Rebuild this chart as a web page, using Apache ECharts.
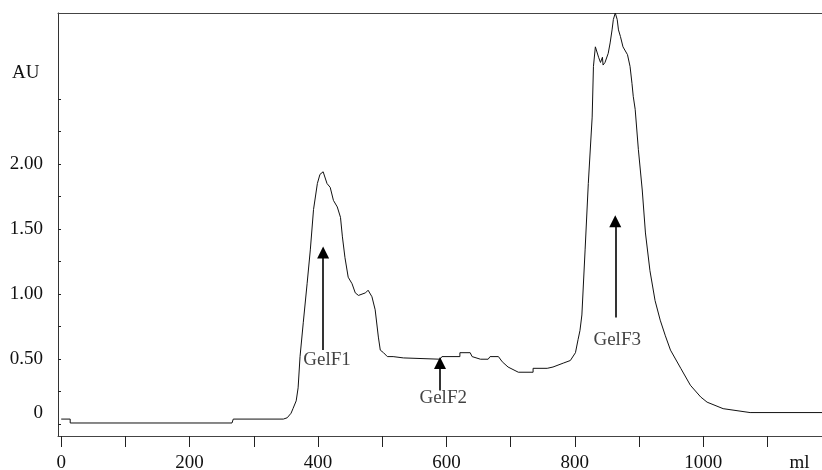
<!DOCTYPE html>
<html>
<head>
<meta charset="utf-8">
<script src="https://cdn.jsdelivr.net/npm/echarts@6/dist/echarts.min.js"></script>
<style>
  html, body { margin: 0; padding: 0; background: #fff; }
  #chart { width: 822px; height: 470px; }
</style>
</head>
<body>
<div id="chart"></div>
<script>
// elution volume (ml) and absorbance (AU)
const volume = [
  0, 14, 14, 266, 268, 346, 352, 358, 361, 366, 369, 372, 377, 383, 388, 393, 399, 403, 408,
  414, 419, 424, 430, 435, 438, 442, 447, 453, 458, 463, 474, 478, 484, 489, 494, 497, 502,
  508, 517, 533, 590, 593, 621, 621, 637, 640, 653, 665, 668, 681, 687, 696, 712, 735, 735,
  757, 766, 782, 793, 801, 805, 808, 811, 816, 821, 827, 829, 832, 835, 837, 840, 843, 844,
  847, 850, 852, 855, 858, 860, 863, 866, 868, 871, 875, 882, 886, 889, 891, 894, 899, 905,
  910, 917, 925, 933, 941, 949, 965, 980, 996, 1006, 1031, 1073, 1185
];
const absorbance = [
  0.04, 0.04, 0.01, 0.01, 0.04, 0.04, 0.05, 0.085, 0.12, 0.18, 0.28, 0.52, 0.78, 1.08, 1.34,
  1.65, 1.85, 1.92, 1.94, 1.85, 1.82, 1.72, 1.67, 1.59, 1.44, 1.28, 1.13, 1.08, 1.01, 0.99,
  1.01, 1.03, 0.98, 0.88, 0.67, 0.57, 0.55, 0.52, 0.52, 0.51, 0.50, 0.52, 0.52, 0.55, 0.55,
  0.52, 0.50, 0.50, 0.52, 0.52, 0.48, 0.44, 0.40, 0.40, 0.43, 0.43, 0.44, 0.47, 0.49, 0.55,
  0.65, 0.72, 0.84, 1.34, 1.85, 2.36, 2.75, 2.90, 2.90, 2.82, 2.78, 2.82, 2.76, 2.78, 2.78,
  2.85, 2.93, 3.03, 3.11, 3.16, 3.11, 3.03, 2.98, 2.90, 2.84, 2.75, 2.62, 2.52, 2.42, 2.11,
  1.80, 1.47, 1.18, 0.95, 0.80, 0.68, 0.57, 0.43, 0.30, 0.21, 0.17, 0.12, 0.09, 0.09
];

const xTicks = [0, 100, 200, 300, 400, 500, 600, 700, 800, 900, 1000, 1100];
const xLabels = [0, 200, 400, 600, 800, 1000, 1150]; // last slot carries the unit
const yTicks = [0, 0.25, 0.5, 0.75, 1, 1.25, 1.5, 1.75, 2, 2.25, 2.5];
const yLabels = [0, 0.5, 1, 1.5, 2];

// fraction arrows and their captions
const fractionNames = ["GelF1", "GelF2", "GelF3"];
const arrowX = [408, 590, 863];
const arrowFrom = [0.57, 0.26, 0.82];
const arrowTo = [1.32, 0.47, 1.56];
const captionX = [414, 595, 866];
const captionY = [0.49, 0.2, 0.65];

const font = "Liberation Serif";
const chart = echarts.init(document.getElementById("chart"), null, { renderer: "canvas" });

const trace = volume.map((v, i) => [v, absorbance[i]]);
const arrows = arrowX.map((x, i) => [
  { coord: [x, arrowFrom[i]] },
  { coord: [x, arrowTo[i]] }
]);
const captions = fractionNames.map((n, i) => ({ name: n, value: [captionX[i], captionY[i]] }));

chart.setOption({
  animation: false,
  backgroundColor: "#fff",
  title: {
    text: "AU",
    left: 12,
    top: 64,
    padding: 0,
    textStyle: { fontFamily: font, fontSize: 19, fontWeight: "normal", color: "#111" }
  },
  grid: {
    left: 58,
    right: 0,
    top: 13,
    bottom: 34,
    containLabel: false,
    outerBoundsMode: "none"
  },
  xAxis: [
    {
      type: "value",
      min: -5,
      max: 1185,
      splitLine: { show: false },
      axisLine: { show: true, onZero: false, lineStyle: { color: "#444", width: 1 } },
      axisTick: {
        show: true,
        inside: false,
        length: 11,
        customValues: xTicks,
        lineStyle: { color: "#222" }
      },
      axisLabel: {
        customValues: xLabels,
        margin: 18,
        fontFamily: font,
        fontSize: 19,
        color: "#111",
        formatter: v => (v === 1150 ? "ml" : String(v))
      }
    },
    {
      // top frame line only
      type: "value",
      position: "top",
      min: -5,
      max: 1185,
      splitLine: { show: false },
      axisLine: { show: true, onZero: false, lineStyle: { color: "#444", width: 1 } },
      axisTick: { show: false },
      axisLabel: { show: false }
    }
  ],
  yAxis: {
    type: "value",
    min: -0.09,
    max: 3.16,
    splitLine: { show: false },
    axisLine: { show: true, onZero: false, lineStyle: { color: "#333", width: 1 } },
    axisTick: {
      show: true,
      inside: true,
      length: 3,
      customValues: yTicks,
      lineStyle: { color: "#222" }
    },
    axisLabel: {
      customValues: yLabels,
      margin: 15,
      fontFamily: font,
      fontSize: 19,
      color: "#111",
      formatter: v => (v === 0 ? "{z|0}" : v.toFixed(2)),
      rich: {
        z: { fontFamily: font, fontSize: 19, color: "#111", padding: [0, 0, 22, 0] }
      }
    }
  },
  series: [
    {
      name: "trace",
      type: "line",
      data: trace,
      showSymbol: false,
      symbol: "none",
      clip: true,
      lineStyle: { color: "#111", width: 1 },
      markLine: {
        silent: true,
        symbol: ["none", "triangle"],
        symbolSize: 12,
        label: { show: false },
        lineStyle: { color: "#000", width: 1.6, type: "solid" },
        data: arrows
      }
    },
    {
      name: "captions",
      type: "scatter",
      data: captions,
      symbolSize: 0,
      silent: true,
      label: {
        show: true,
        position: "inside",
        formatter: p => p.name,
        fontFamily: font,
        fontSize: 19,
        color: "#111"
      }
    }
  ]
});
</script>
</body>
</html>
